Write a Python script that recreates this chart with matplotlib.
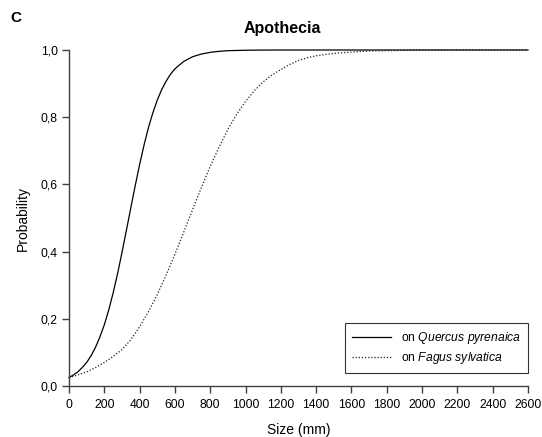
import numpy as np
import matplotlib
matplotlib.use('Agg')
from matplotlib import pyplot as plt

plt.rcParams['font.family'] = ['Liberation Sans', 'DejaVu Sans']
plt.rcParams['mathtext.fontset'] = 'custom'
plt.rcParams['mathtext.rm'] = 'Liberation Sans'
plt.rcParams['mathtext.it'] = 'Liberation Sans:italic'

# values
quercus_size = [0, 25, 50, 75, 100, 125, 150, 175, 200, 225, 250, 275, 300, 325, 350,
                375, 400, 425, 450, 475, 500, 525, 550, 575, 600, 650, 700, 750, 800,
                850, 900, 1000, 1100, 1200, 1600, 2000, 2600]
quercus_prob = [0.025, 0.033, 0.042, 0.055, 0.070, 0.090, 0.115, 0.146, 0.182, 0.226,
                0.277, 0.334, 0.397, 0.463, 0.530, 0.596, 0.659, 0.717, 0.769, 0.813,
                0.851, 0.882, 0.907, 0.928, 0.944, 0.966, 0.980, 0.988, 0.993,
                0.996, 0.998, 0.9993, 0.9998, 1.0, 1.0, 1.0, 1.0]

fagus_size = [0, 50, 100, 150, 200, 250, 300, 350, 400, 450, 500, 550, 600, 650, 700,
              750, 800, 850, 900, 950, 1000, 1050, 1100, 1150, 1200, 1250, 1300, 1350,
              1400, 1500, 1600, 1700, 1800, 2000, 2200, 2600]
fagus_prob = [0.025, 0.033, 0.042, 0.055, 0.070, 0.088, 0.108, 0.138, 0.176, 0.221,
              0.272, 0.330, 0.392, 0.458, 0.525, 0.591, 0.654, 0.711, 0.764, 0.809,
              0.847, 0.879, 0.905, 0.926, 0.942, 0.957, 0.969, 0.977, 0.983, 0.990,
              0.994, 0.997, 0.998, 0.9995, 1.0, 1.0]

xticks = list(range(0, 2601, 200))
yticks = [0.0, 0.2, 0.4, 0.6, 0.8, 1.0]
ytick_labels = ['0,0', '0,2', '0,4', '0,6', '0,8', '1,0']

fig = plt.figure(figsize=(5.42, 4.37), dpi=100)
ax = fig.add_axes([69/542, 1-386/437, (528-69)/542, (386-50)/437])

ax.plot(quercus_size, quercus_prob, color='black', lw=0.9, clip_on=False,
        label=r'on $\mathit{Quercus\ pyrenaica}$')
ax.plot(fagus_size, fagus_prob, color='#222222', lw=0.9, ls=(0, (1, 1.5)), clip_on=False,
        label=r'on $\mathit{Fagus\ sylvatica}$')

ax.set_xlim(0, 2600)
ax.set_ylim(0, 1)
ax.set_xticks(xticks)
ax.set_yticks(yticks)
ax.set_yticklabels(ytick_labels)
for s in ['top', 'right']:
    ax.spines[s].set_visible(False)
for s in ['left', 'bottom']:
    ax.spines[s].set_color('#404040')
    ax.spines[s].set_linewidth(1.0)
ax.tick_params(direction='out', length=5, width=1.0, color='#404040',
               labelsize=8.7, pad=3)
ax.tick_params(axis='x', pad=4)

ax.set_xlabel('Size (mm)', fontsize=10, labelpad=9)
ax.set_ylabel('Probability', fontsize=10, labelpad=8)

leg = ax.legend(loc='lower right', bbox_to_anchor=(1.0, 13/336), borderaxespad=0,
                fancybox=False, edgecolor='black', fontsize=8.7, handlelength=3.2,
                borderpad=0.6, labelspacing=0.3, handletextpad=0.8)
leg.get_frame().set_linewidth(0.8)

fig.text(282/542, 1-29/437, 'Apothecia', fontsize=11.5, fontweight='bold',
         ha='center', va='center')
fig.text(16/542, 1-18/437, 'C', fontsize=11, fontweight='bold', ha='center', va='center')

fig.savefig('out.png', dpi=100)
